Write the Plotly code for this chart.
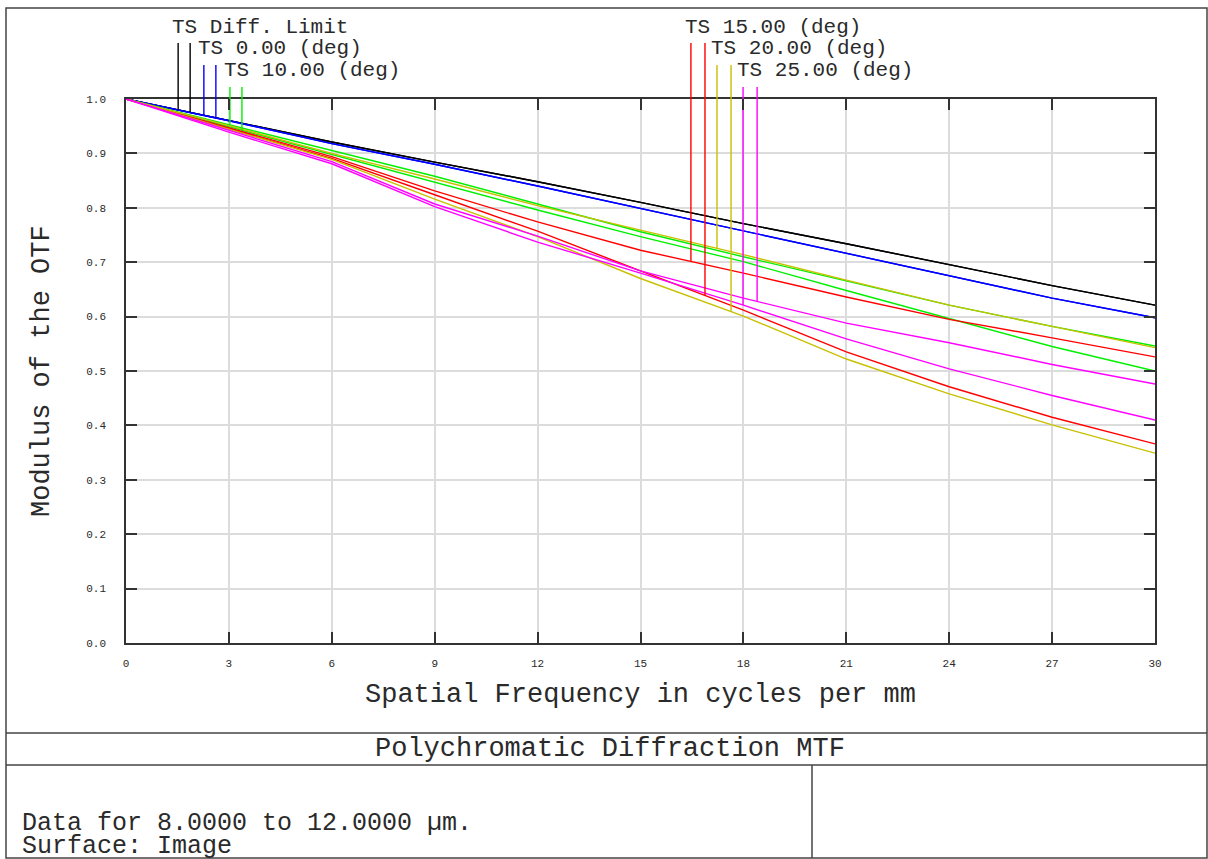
import numpy as np
import plotly.graph_objects as go

# ---------------- data ----------------
freq = [0, 3, 6, 9, 12, 15, 18, 21, 24, 27, 30]

diff_limit = [1.0, 0.961, 0.921, 0.884, 0.848, 0.810, 0.771, 0.734, 0.696, 0.657, 0.621]
deg0       = [1.0, 0.960, 0.918, 0.880, 0.840, 0.799, 0.757, 0.716, 0.675, 0.634, 0.598]
deg10_t    = [1.0, 0.953, 0.905, 0.858, 0.807, 0.756, 0.710, 0.665, 0.621, 0.582, 0.546]
deg10_s    = [1.0, 0.949, 0.897, 0.846, 0.796, 0.747, 0.701, 0.648, 0.596, 0.545, 0.500]
deg15_t    = [1.0, 0.947, 0.894, 0.831, 0.774, 0.722, 0.680, 0.636, 0.595, 0.561, 0.526]
deg15_s    = [1.0, 0.945, 0.891, 0.824, 0.757, 0.684, 0.612, 0.535, 0.471, 0.415, 0.366]
deg20_t    = [1.0, 0.951, 0.900, 0.853, 0.804, 0.759, 0.714, 0.667, 0.621, 0.582, 0.543]
deg20_s    = [1.0, 0.944, 0.889, 0.816, 0.747, 0.670, 0.601, 0.522, 0.458, 0.401, 0.349]
deg25_t    = [1.0, 0.939, 0.881, 0.802, 0.737, 0.680, 0.621, 0.559, 0.504, 0.455, 0.410]
deg25_s    = [1.0, 0.942, 0.885, 0.807, 0.748, 0.684, 0.634, 0.588, 0.552, 0.512, 0.476]

labels = ["TS Diff. Limit", "TS 0.00 (deg)", "TS 10.00 (deg)",
          "TS 15.00 (deg)", "TS 20.00 (deg)", "TS 25.00 (deg)"]
series_t = [diff_limit, deg0, deg10_t, deg15_t, deg20_t, deg25_t]
series_s = [diff_limit, deg0, deg10_s, deg15_s, deg20_s, deg25_s]
colors = ["#000000", "#0000ff", "#00f000", "#ff0000", "#c8c000", "#ff00ff"]

# frequencies where the legend marker lines touch the T and S curves
marker_t = [1.52, 2.27, 3.03, 16.47, 17.23, 17.99]
marker_s = [1.87, 2.62, 3.38, 16.88, 17.64, 18.40]
label_level = [0, 1, 2, 0, 1, 2]   # row of the label

x_ticks = list(range(0, 31, 3))
y_ticks = [round(0.1 * i, 1) for i in range(11)]

# ---------------- figure ----------------
W, H = 1208, 859
L, R, T, B = 126, 53, 99, 216
pw, ph = W - L - R, H - T - B

def px(x):  # page pixel -> paper x
    return (x - L) / pw

def py(y):  # page pixel -> paper y
    return (H - B - y) / ph

FONT = "Liberation Mono, Courier New, monospace"
TXT = "#2a2a2a"

fig = go.Figure()

for i in range(len(labels)):
    for ser in (series_t[i], series_s[i]):
        fig.add_trace(go.Scatter(x=freq, y=ser, mode="lines",
                                 line=dict(color=colors[i], width=1.4),
                                 showlegend=False, hoverinfo="skip"))

row_line_top = [py(43), py(65), py(87)]
row_label_y = [py(27), py(48), py(70)]

shapes = []
annotations = []
for i in range(len(labels)):
    for f, ser in ((marker_t[i], series_t[i]), (marker_s[i], series_s[i])):
        v = float(np.interp(f, freq, ser))
        fig.add_trace(go.Scatter(x=[f, f], y=[v, 1.0], mode="lines",
                                 line=dict(color=colors[i], width=1.4),
                                 showlegend=False, hoverinfo="skip"))
        shapes.append(dict(type="line", xref="x", yref="paper",
                           x0=f, x1=f, y0=1.0, y1=row_line_top[label_level[i]],
                           line=dict(color=colors[i], width=1.4)))
    annotations.append(dict(text=labels[i], xref="x", yref="paper",
                            x=marker_t[i], y=row_label_y[label_level[i]],
                            xanchor="left", yanchor="middle", xshift=-8,
                            showarrow=False,
                            font=dict(family=FONT, size=21, color=TXT)))

# axis titles
annotations.append(dict(text="Spatial Frequency in cycles per mm", xref="paper", yref="paper",
                        x=0.5, y=py(695), xanchor="center", yanchor="middle", showarrow=False,
                        font=dict(family=FONT, size=27, color=TXT)))
annotations.append(dict(text="Modulus of the OTF", xref="paper", yref="paper",
                        x=px(42), y=0.5, xanchor="center", yanchor="middle", showarrow=False,
                        textangle=-90, font=dict(family=FONT, size=27, color=TXT)))
# title box & info text
annotations.append(dict(text="Polychromatic Diffraction MTF", xref="paper", yref="paper",
                        x=px(610), y=py(749), xanchor="center", yanchor="middle", showarrow=False,
                        font=dict(family=FONT, size=27, color=TXT)))
annotations.append(dict(text="Data for 8.0000 to 12.0000 µm.", xref="paper", yref="paper",
                        x=px(20), y=py(823), xanchor="left", yanchor="middle", showarrow=False,
                        font=dict(family=FONT, size=25, color=TXT)))
annotations.append(dict(text="Surface: Image", xref="paper", yref="paper",
                        x=px(20), y=py(846), xanchor="left", yanchor="middle", showarrow=False,
                        font=dict(family=FONT, size=25, color=TXT)))

frame = dict(color="#444444", width=1.5)
shapes += [
    dict(type="rect", xref="paper", yref="paper", x0=px(6), x1=px(1207), y0=py(858), y1=py(8),
         line=frame, layer="below"),
    dict(type="line", xref="paper", yref="paper", x0=px(6), x1=px(1207), y0=py(733), y1=py(733), line=frame),
    dict(type="line", xref="paper", yref="paper", x0=px(6), x1=px(1207), y0=py(765), y1=py(765), line=frame),
    dict(type="line", xref="paper", yref="paper", x0=px(812), x1=px(812), y0=py(765), y1=py(858), line=frame),
]

axis_common = dict(showline=True, linecolor="#333333", linewidth=1.5, mirror="ticks",
                   ticks="inside", ticklen=11, tickcolor="#333333", tickwidth=1.5,
                   showgrid=True, gridcolor="#dcdcdc", gridwidth=1.5, zeroline=False,
                   tickfont=dict(family=FONT, size=11, color=TXT))

fig.update_layout(
    width=W, height=H, autosize=False,
    margin=dict(l=L, r=R, t=T, b=B, pad=0),
    paper_bgcolor="white", plot_bgcolor="white",
    showlegend=False,
    xaxis=dict(range=[0, 30], tickvals=x_ticks, ticktext=[str(v) for v in x_ticks],
               ticklabelstandoff=9, **axis_common),
    yaxis=dict(range=[0, 1], tickvals=y_ticks, ticktext=[f"{v:.1f}" for v in y_ticks],
               ticklabelstandoff=16, **axis_common),
    shapes=shapes, annotations=annotations,
)

fig.write_html("out.html", config={"displayModeBar": False},
               post_script="document.body.style.margin='0';document.body.style.overflow='hidden';")
